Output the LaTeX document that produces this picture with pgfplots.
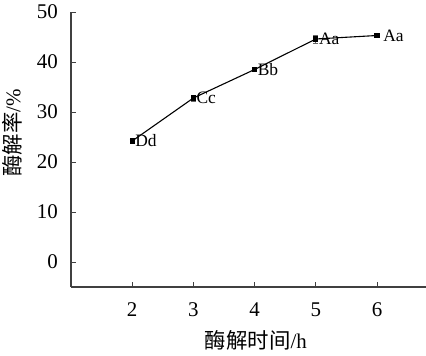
\documentclass[border=0pt]{standalone}
\usepackage{fontspec}
\setmainfont{Liberation Serif}
\newfontfamily\cjk{Noto Sans CJK SC}
\usepackage{pgfplots}
\pgfplotsset{compat=1.18}
\begin{document}
\begin{tikzpicture}
\begin{axis}[
  name=ax,
  scale only axis,
  width=355bp, height=275bp,
  xmin=1, xmax=6.8, ymin=-5, ymax=50,
  axis x line*=bottom, axis y line*=left,
  axis line style={draw=black!75, line width=1.2bp},
  tick align=inside,
  major tick length=5bp,
  tick style={draw=black!75, line width=0.9bp},
  xtick={2,3,4,5,6}, ytick={0,10,20,30,40,50},
  /pgf/number format/assume math mode=true,
  tick label style={font=\fontsize{21}{25}\selectfont, inner sep=1bp},
  xticklabel style={yshift=-14.5bp},
  yticklabel style={xshift=-12bp},
  xlabel={{\cjk\fontsize{21.5}{25}\selectfont 酶解时间}/h},
  ylabel={{\cjk\fontsize{21.5}{25}\selectfont 酶解率}/\%},
  label style={font=\fontsize{21}{25}\selectfont, inner sep=1pt},
  x label style={at={(axis description cs:0.521,-0.195)}, anchor=center},
  y label style={at={(axis description cs:-0.166,0.56)}, anchor=center},
  clip=false,
]
\addplot+[black, line width=1.1bp, mark=square*, mark size=2.1bp,
  mark options={fill=black, solid},
  error bars/.cd, y dir=both, y explicit,
  error bar style={line width=0.8bp, black!60},
  error mark options={rotate=90, mark size=2.5bp, line width=0.8bp, black!60},
  ] coordinates {
  (2,24.2) +- (0,0.3)
  (3,32.8) +- (0,0.6)
  (4,38.5) +- (0,0.3)
  (5,44.6) +- (0,0.8)
  (6,45.3) +- (0,0.3)
};
\addplot[draw=none, mark=none,
  nodes near coords, point meta=explicit symbolic,
  every node near coord/.append style={anchor=west, xshift=2bp, font=\fontsize{17.5}{21}\selectfont, inner sep=1bp}]
  coordinates {
  (2,24.2) [Dd]
  (3,32.8) [Cc]
  (4,38.5) [Bb]
  (5,44.6) [Aa]
  (6.05,45.3) [Aa]
};
\end{axis}
\pgfresetboundingbox
\path ([xshift=-71bp,yshift=-68.7bp]ax.south west) rectangle ([yshift=12bp]ax.north east);
\end{tikzpicture}
\end{document}
